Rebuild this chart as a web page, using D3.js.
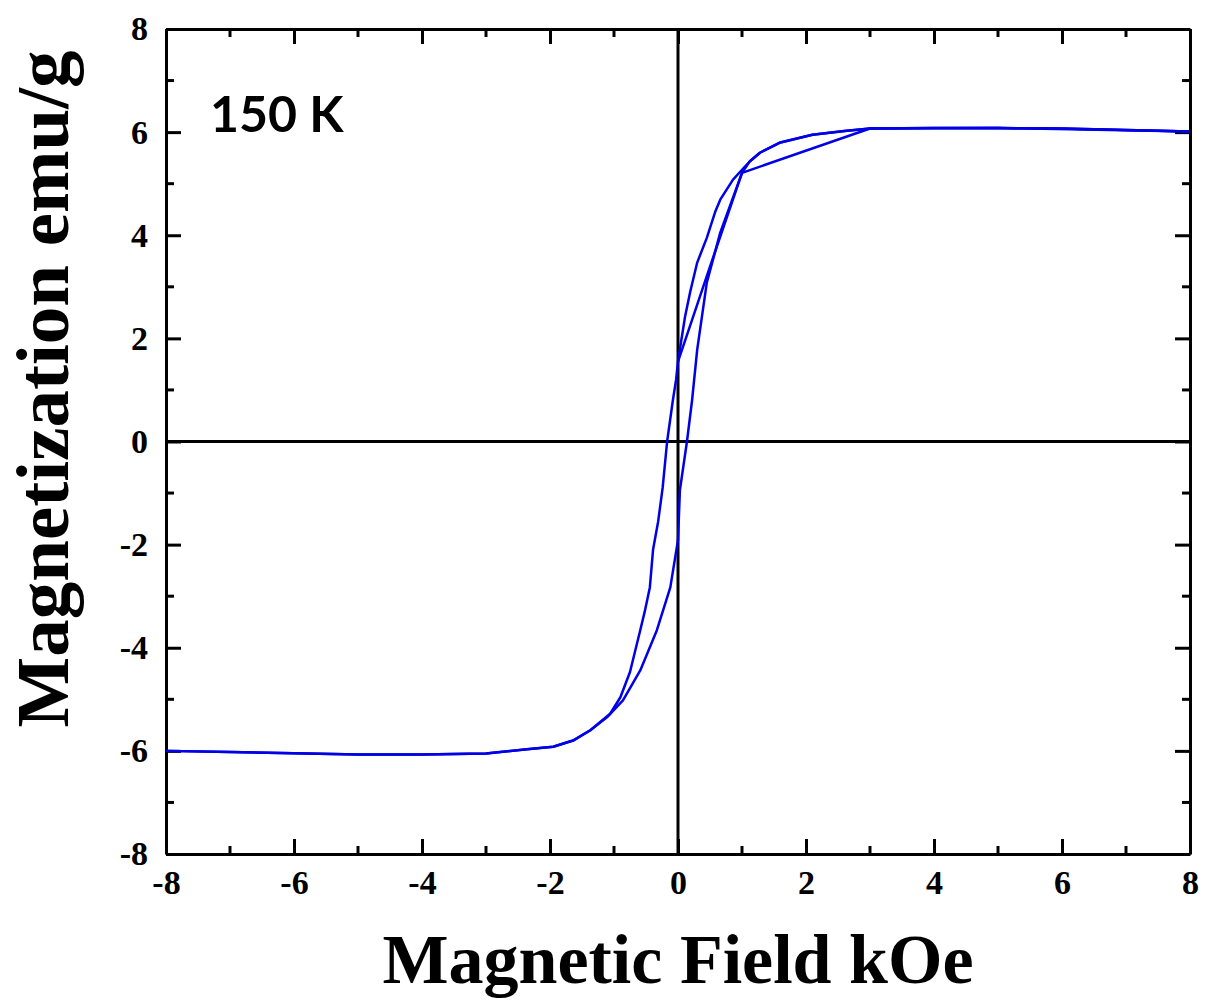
<!DOCTYPE html>
<html>
<head>
<meta charset="utf-8">
<script src="https://cdn.jsdelivr.net/npm/d3@7"></script>
<style>
  body { margin: 0; background: #fff; }
  svg { display: block; }
</style>
</head>
<body>
<svg width="1207" height="1005"></svg>
<script>
// hysteresis loop at 150 K, field in kOe, moment in emu/g
var fieldInit = [0, 0.5, 1.0, 3.0, 5.0, 8.0]
var momentInit = [1.55, 3.39, 5.21, 6.07, 6.08, 6.01]

var fieldDown = [8, 7, 6, 5, 4, 3, 2.6, 2.1, 1.6, 1.28, 1.12, 1.0, 0.86, 0.66, 0.58, 0.45, 0.3, 0.19, 0.11, 0.05, 0, -0.03, -0.08, -0.17, -0.24, -0.31, -0.39, -0.44, -0.52, -0.59, -0.75, -0.9, -1.06, -1.37, -1.64, -1.95, -2.36, -3, -4, -5, -5.8, -7, -8]
var momentDown = [6.01, 6.04, 6.07, 6.08, 6.08, 6.07, 6.02, 5.95, 5.8, 5.6, 5.43, 5.27, 5.08, 4.69, 4.45, 3.95, 3.47, 2.9, 2.42, 1.95, 1.55, 1.2, 0.8, 0, -0.9, -1.55, -2.1, -2.83, -3.3, -3.66, -4.47, -4.96, -5.28, -5.6, -5.8, -5.92, -5.97, -6.05, -6.07, -6.07, -6.05, -6.02, -6.0]

var fieldUp = [-8, -7, -5.8, -5, -4, -3, -2.36, -1.95, -1.64, -1.37, -1.11, -0.86, -0.59, -0.33, -0.12, 0, 0.03, 0.14, 0.22, 0.3, 0.45, 0.66, 1.0, 1.12, 1.28, 1.6, 2.1, 2.6, 3, 4, 5, 6, 7, 8]
var momentUp = [-6.0, -6.02, -6.05, -6.07, -6.07, -6.05, -5.97, -5.92, -5.8, -5.6, -5.35, -5.02, -4.44, -3.66, -2.83, -1.91, -0.94, 0, 0.8, 1.78, 3.08, 4.05, 5.21, 5.43, 5.6, 5.8, 5.95, 6.02, 6.07, 6.08, 6.08, 6.07, 6.04, 6.01]

var xTicks = [-8, -6, -4, -2, 0, 2, 4, 6, 8]
var yTicks = [-8, -6, -4, -2, 0, 2, 4, 6, 8]
var xMinor = [-7, -5, -3, -1, 1, 3, 5, 7]
var yMinor = [-7, -5, -3, -1, 1, 3, 5, 7]

var svg = d3.select('svg')
var plotL = 166, plotR = 1190, plotT = 29, plotB = 854

var x = d3.scaleLinear().domain([-8, 8]).range([plotL, plotR])
var y = d3.scaleLinear().domain([-8, 8]).range([plotB, plotT])

var tickFont = '"Liberation Serif", "Times New Roman", serif'
var fmt = function (d) { return String(d) }

function zip (fx, fy) {
  return fx.map(function (v, i) { return [v, fy[i]] })
}

// zero lines
svg.append('line')
  .attr('x1', x(0)).attr('x2', x(0)).attr('y1', plotT).attr('y2', plotB)
  .attr('stroke', '#000').attr('stroke-width', 3)
svg.append('line')
  .attr('x1', plotL).attr('x2', plotR).attr('y1', y(0)).attr('y2', y(0))
  .attr('stroke', '#000').attr('stroke-width', 3)

// axes: labelled bottom/left, mirrored ticks top/right
function styleAxis (g) {
  g.select('.domain').attr('stroke-width', 3)
  g.selectAll('.tick line').attr('stroke-width', 3)
  g.selectAll('.tick text')
    .attr('font-family', tickFont)
    .attr('font-weight', 'bold')
    .attr('font-size', 34)
    .attr('fill', '#000')
}

var bottomAxis = svg.append('g')
  .attr('transform', 'translate(0,' + plotB + ')')
  .call(d3.axisBottom(x).tickValues(xTicks).tickFormat(fmt).tickSize(-15).tickSizeOuter(0).tickPadding(13))
styleAxis(bottomAxis)
bottomAxis.selectAll('.tick text').attr('dy', '0.78em')

var leftAxis = svg.append('g')
  .attr('transform', 'translate(' + plotL + ',0)')
  .call(d3.axisLeft(y).tickValues(yTicks).tickFormat(fmt).tickSize(-15).tickSizeOuter(0).tickPadding(18))
styleAxis(leftAxis)

var topAxis = svg.append('g')
  .attr('transform', 'translate(0,' + plotT + ')')
  .call(d3.axisTop(x).tickValues(xTicks).tickSize(-15).tickSizeOuter(0).tickFormat(''))
styleAxis(topAxis)

var rightAxis = svg.append('g')
  .attr('transform', 'translate(' + plotR + ',0)')
  .call(d3.axisRight(y).tickValues(yTicks).tickSize(-15).tickSizeOuter(0).tickFormat(''))
styleAxis(rightAxis)

// minor ticks
var minor = svg.append('g').attr('stroke', '#000').attr('stroke-width', 3)
xMinor.forEach(function (v) {
  minor.append('line').attr('x1', x(v)).attr('x2', x(v)).attr('y1', plotB).attr('y2', plotB - 8)
  minor.append('line').attr('x1', x(v)).attr('x2', x(v)).attr('y1', plotT).attr('y2', plotT + 8)
})
yMinor.forEach(function (v) {
  minor.append('line').attr('x1', plotL).attr('x2', plotL + 8).attr('y1', y(v)).attr('y2', y(v))
  minor.append('line').attr('x1', plotR).attr('x2', plotR - 8).attr('y1', y(v)).attr('y2', y(v))
})

// curves
var line = d3.line()
  .x(function (d) { return x(d[0]) })
  .y(function (d) { return y(d[1]) })

var series = [zip(fieldInit, momentInit), zip(fieldDown, momentDown), zip(fieldUp, momentUp)]
svg.append('g').selectAll('path')
  .data(series)
  .enter().append('path')
  .attr('fill', 'none')
  .attr('stroke', '#0000e6')
  .attr('stroke-width', 2.5)
  .attr('stroke-linejoin', 'round')
  .attr('d', line)

// titles
svg.append('text')
  .attr('x', (plotL + plotR) / 2)
  .attr('y', 983)
  .attr('text-anchor', 'middle')
  .attr('font-family', tickFont)
  .attr('font-weight', 'bold')
  .attr('font-size', 70)
  .text('Magnetic Field kOe')

svg.append('text')
  .attr('transform', 'translate(68,389) rotate(-90)')
  .attr('text-anchor', 'middle')
  .attr('font-family', tickFont)
  .attr('font-weight', 'bold')
  .attr('font-size', 75)
  .text('Magnetization emu/g')

svg.append('text')
  .attr('x', 210)
  .attr('y', 132)
  .attr('font-family', 'Lato, "Open Sans", sans-serif')
  .attr('font-weight', 'bold')
  .attr('font-size', 50)
  .text('150 K')
</script>
</body>
</html>
